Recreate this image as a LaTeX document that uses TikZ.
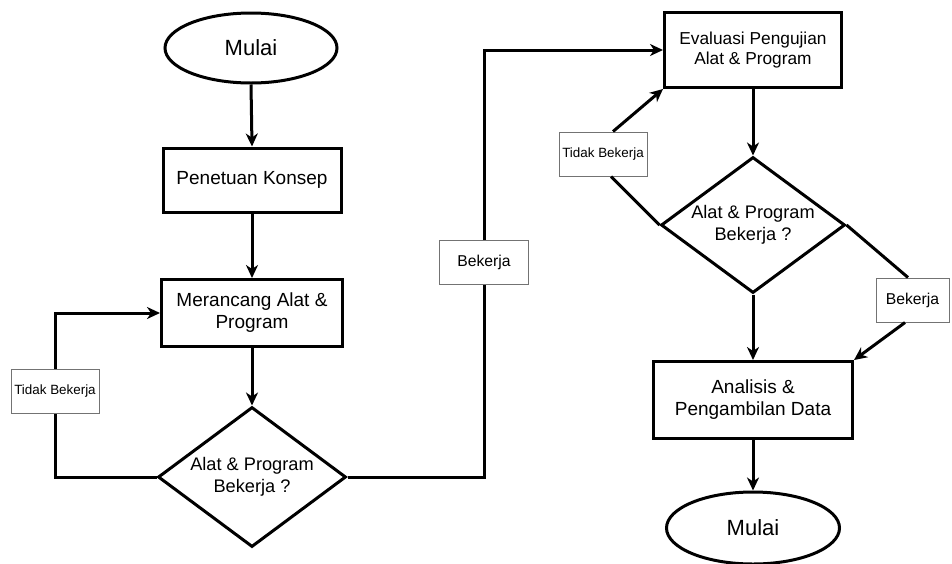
\documentclass[tikz,border=0pt]{standalone}
\usepackage{fontspec}
\setmainfont{Liberation Sans}
\usetikzlibrary{shapes.geometric,arrows.meta}
\tikzset{
  blk/.style={draw=black, line width=3pt, fill=white, inner sep=0pt, align=center, font=\fontsize{19}{22}\selectfont},
  boxn/.style={blk, rectangle},
  term/.style={blk, ellipse, font=\fontsize{22}{26}\selectfont},
  decide/.style={blk, diamond, aspect=1.35, font=\fontsize{18.2}{21.5}\selectfont},
  lbl/.style={draw=black!55, line width=1pt, fill=white, inner sep=0pt, align=center},
  conn/.style={line width=3pt, draw=black},
  arr/.style={conn, -{Stealth[length=13pt,width=12pt,inset=4pt]}},
}
\begin{document}
\begin{tikzpicture}[x=1pt,y=-1pt]
\path[use as bounding box, fill=white] (0,0) rectangle (952,563);
% left column
\node[term, minimum width=172pt, minimum height=70pt] (start) at (251,48) {Mulai};
\node[boxn, minimum width=178pt, minimum height=64pt] (konsep) at (252,180) {Penetuan Konsep};
\node[boxn, minimum width=181pt, minimum height=67pt] (rancang) at (252,313) {Merancang Alat \&\\Program};
\node[decide, minimum width=188pt, minimum height=140pt] (d1) at (252,477) {Alat \& Program\\Bekerja ?};
\node[lbl, minimum width=88pt, minimum height=44pt, font=\fontsize{13.4}{16}\selectfont] (lbl1) at (55,391) {Tidak Bekerja};
\node[lbl, minimum width=89pt, minimum height=44pt, font=\fontsize{15.7}{18}\selectfont] (lbl2) at (484,262) {Bekerja};
% right column
\node[boxn, minimum width=177pt, minimum height=75pt, font=\fontsize{17.3}{20.5}\selectfont] (eval) at (753,50) {Evaluasi Pengujian\\Alat \& Program};
\node[decide, minimum width=184pt, minimum height=136pt] (d2) at (753,225) {Alat \& Program\\Bekerja ?};
\node[lbl, minimum width=88pt, minimum height=44pt, font=\fontsize{13.4}{16}\selectfont] (lbl3) at (603,154) {Tidak Bekerja};
\node[lbl, minimum width=73pt, minimum height=44pt, font=\fontsize{15.7}{18}\selectfont] (lbl4) at (912.5,300) {Bekerja};
\node[boxn, minimum width=199pt, minimum height=77pt] (anal) at (753,400) {Analisis \&\\Pengambilan Data};
\node[term, minimum width=173pt, minimum height=72pt] (finish) at (753,528) {Mulai};
% connectors left
\draw[arr] (start.south) -- (konsep.north);
\draw[arr] (konsep.south) -- (rancang.north);
\draw[arr] (rancang.south) -- (d1.north);
\draw[conn] (d1.west) -| (lbl1.south);
\draw[arr] (lbl1.north) |- (rancang.west);
\draw[conn] (d1.east) -| (lbl2.south);
\draw[arr] (lbl2.north) |- (eval.west);
% connectors right
\draw[arr] (eval.south) -- (d2.north);
\draw[conn] (d2.west) -- ([xshift=8pt]lbl3.south);
\draw[arr] ([xshift=10pt]lbl3.north) -- (eval.south west);
\draw[conn] (d2.east) -- ([xshift=-4.5pt]lbl4.north);
\draw[arr] ([xshift=-7.5pt]lbl4.south) -- (anal.north east);
\draw[arr] (d2.south) -- (anal.north);
\draw[arr] (anal.south) -- (finish.north);
\end{tikzpicture}
\end{document}
